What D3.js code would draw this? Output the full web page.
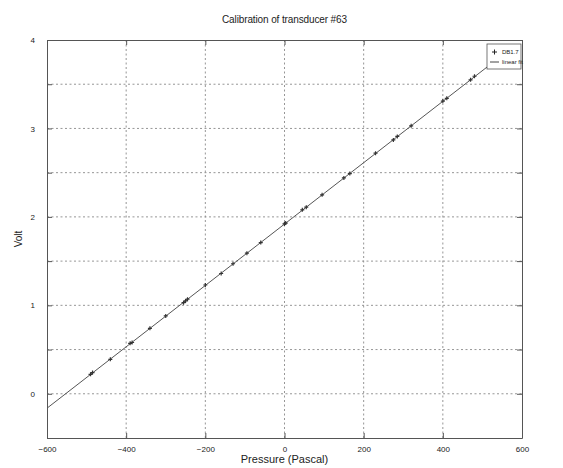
<!DOCTYPE html>
<html>
<head>
<meta charset="utf-8">
<script src="https://cdn.jsdelivr.net/npm/d3@7"></script>
<style>
  body { margin: 0; background: #fff; }
  text { font-family: "Liberation Sans", Arial, sans-serif; fill: #222; }
</style>
</head>
<body>
<div id="svg-container"></div>
<script>
const pressure = [-490, -485, -440, -390, -385, -340, -300, -255, -250, -245, -200, -160, -130, -95, -60,
  0, 3, 45, 55, 95, 150, 165, 230, 275, 285, 320, 400, 410, 470, 480]
const volt = [0.22, 0.24, 0.39, 0.57, 0.58, 0.74, 0.88, 1.03, 1.05, 1.07, 1.23, 1.36, 1.47, 1.59, 1.71,
  1.92, 1.93, 2.08, 2.11, 2.25, 2.44, 2.49, 2.72, 2.87, 2.91, 3.03, 3.31, 3.34, 3.55, 3.59]
const fitP = [-600, 520]
const fitV = [-0.163, 3.723]
const xTicks = [-600, -400, -200, 0, 200, 400, 600]
const yTicks = [-0.5, 0, 0.5, 1, 1.5, 2, 2.5, 3, 3.5, 4]
const legendLabels = ['DB1.7', 'linear fit']

const width = 563
const height = 468
const margin = { top: 40, right: 41, bottom: 30, left: 47 }

const svg = d3.select('#svg-container').append('svg')
  .attr('width', width).attr('height', height)

const x = d3.scaleLinear().domain([-600, 600]).range([margin.left, width - margin.right])
const y = d3.scaleLinear().domain([-0.5, 4]).range([height - margin.bottom, margin.top])

// grid
const grid = svg.append('g').attr('stroke', '#8a8a8a').attr('stroke-width', 0.9).attr('stroke-dasharray', '2,2.5')
grid.selectAll('.gx').data(xTicks.slice(1, -1)).join('line')
  .attr('x1', d => x(d)).attr('x2', d => x(d))
  .attr('y1', y(-0.5)).attr('y2', y(4))
grid.selectAll('.gy').data(yTicks.slice(1, -1)).join('line')
  .attr('x1', x(-600)).attr('x2', x(600))
  .attr('y1', d => y(d)).attr('y2', d => y(d))

// axes (MATLAB-like inward ticks)
const fmtY = d => Number.isInteger(d) ? String(d) : ''
svg.append('g').attr('transform', `translate(0,${y(-0.5)})`)
  .call(d3.axisBottom(x).tickValues(xTicks).tickSize(-5).tickPadding(8).tickSizeOuter(0))
  .call(g => g.selectAll('text').attr('font-size', 8))
svg.append('g').attr('transform', `translate(0,${y(4)})`)
  .call(d3.axisTop(x).tickValues(xTicks).tickSize(-5).tickFormat('').tickSizeOuter(0))
svg.append('g').attr('transform', `translate(${x(-600)},0)`)
  .call(d3.axisLeft(y).tickValues(yTicks).tickFormat(fmtY).tickSize(-5).tickPadding(12).tickSizeOuter(0))
  .call(g => g.selectAll('text').attr('font-size', 8))
svg.append('g').attr('transform', `translate(${x(600)},0)`)
  .call(d3.axisRight(y).tickValues(yTicks).tickFormat('').tickSize(-5).tickSizeOuter(0))
svg.selectAll('.domain').attr('stroke', '#555')
svg.selectAll('.tick line').attr('stroke', '#555')

// fit line
const line = d3.line().x(d => x(d[0])).y(d => y(d[1]))
svg.append('path').datum(d3.zip(fitP, fitV))
  .attr('d', line).attr('fill', 'none').attr('stroke', '#555').attr('stroke-width', 1)

// data markers
svg.append('g').selectAll('path').data(d3.zip(pressure, volt)).join('path')
  .attr('d', d => `M${x(d[0]) - 2},${y(d[1])}h4M${x(d[0])},${y(d[1]) - 2}v4`)
  .attr('stroke', '#333').attr('stroke-width', 1.2)

// legend
const lg = svg.append('g').attr('transform', 'translate(487,44)')
lg.append('rect').attr('width', 34).attr('height', 25).attr('fill', '#fff').attr('stroke', '#555').attr('stroke-width', 0.8)
lg.append('path').attr('d', 'M5,8h5M7.5,5.5v5').attr('stroke', '#222').attr('stroke-width', 1)
lg.append('line').attr('x1', 3).attr('x2', 12).attr('y1', 18).attr('y2', 18).attr('stroke', '#444')
lg.selectAll('text').data(legendLabels).join('text')
  .attr('x', 15).attr('y', (d, i) => 10 + i * 10)
  .attr('font-size', 6).text(d => d)

// titles
svg.append('text').attr('x', x(0)).attr('y', 23).attr('text-anchor', 'middle')
  .attr('font-size', 10).attr('textLength', 125).text('Calibration of transducer #63')
svg.append('text').attr('x', x(0)).attr('y', 463).attr('text-anchor', 'middle')
  .attr('font-size', 11).text('Pressure  (Pascal)')
svg.append('text').attr('transform', `translate(22,${y(1.75)}) rotate(-90)`).attr('text-anchor', 'middle')
  .attr('font-size', 10).text('Volt')
</script>
</body>
</html>
